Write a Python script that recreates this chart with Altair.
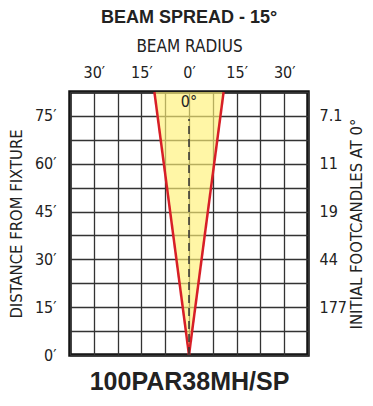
import altair as alt
import pandas as pd

# ---- data ----
cone_dist = [0, 82.5]            # distance from fixture (ft)
cone_half = [0, 10.9]            # beam radius at that distance (ft)
grid_x = [-37.5, -30, -22.5, -15, -7.5, 0, 7.5, 15, 22.5, 30, 37.5]
grid_y = [0, 7.5, 15, 22.5, 30, 37.5, 45, 52.5, 60, 67.5, 75, 82.5]
fc_dist = [15, 30, 45, 60, 75]
fc_labels = ["177", "44", "19", "11", "7.1"]
center_top = 74                  # dashed centre line stops below label
label_dist = 79.5

NARROW = "DejaVu Sans Condensed, serif"
BOLD = "Liberation Sans"

cone = pd.DataFrame({"dist": cone_dist, "left": [-h for h in cone_half], "right": cone_half})
edges = pd.DataFrame({
    "dist": cone_dist + cone_dist,
    "r": [-h for h in cone_half] + cone_half,
    "side": ["l", "l", "r", "r"],
})
center = pd.DataFrame({"x": [0], "y0": [0], "y1": [center_top]})
lab = pd.DataFrame({"x": [0], "y": [label_dist], "t": ["0°"]})

xs = alt.Scale(domain=[-37.5, 37.5], nice=False, zero=False)
ys = alt.Scale(domain=[0, 82.5], nice=False, zero=False)

fc_expr = "".join(f"datum.value == {d} ? '{l}' : " for d, l in zip(fc_dist, fc_labels)) + "''"

area = alt.Chart(cone).mark_area(orient="horizontal", color="#FFF176", opacity=0.65, clip=True).encode(
    y=alt.Y("dist:Q", scale=ys, axis=alt.Axis(
        orient="left", values=grid_y, grid=True, ticks=False, domain=False,
        labelExpr="datum.value % 15 == 0 && datum.value <= 75 ? datum.value + '′' : ''",
        labelFont=NARROW, labelFontSize=16, labelColor="#222", labelPadding=14,
        title="DISTANCE FROM FIXTURE", titleFont=NARROW, titleFontSize=16.5,
        titleFontWeight="normal", titleColor="#222", titlePadding=10, labelOverlap=False)),
    x=alt.X("left:Q", scale=xs, axis=alt.Axis(
        orient="top", values=grid_x, grid=True, ticks=False, domain=False,
        labelExpr="abs(datum.value) % 15 == 0 ? abs(datum.value) + '′' : ''",
        labelFont=NARROW, labelFontSize=16, labelColor="#222", labelPadding=12,
        labelFlush=False, labelOverlap=False,
        title="BEAM RADIUS", titleFont=NARROW, titleFontSize=17,
        titleFontWeight="normal", titleColor="#222", titlePadding=9)),
    x2="right:Q",
)

lines = alt.Chart(edges).mark_line(color="#D71F27", strokeWidth=2.5, clip=True).encode(
    x=alt.X("r:Q", scale=xs, axis=alt.Axis(
        orient="bottom", labels=False, ticks=False, domain=False, grid=False,
        title="100PAR38MH/SP", titleFont=BOLD, titleFontSize=25, titleFontWeight="bold",
        titleColor="#222", titlePadding=14)),
    y=alt.Y("dist:Q", scale=ys, axis=alt.Axis(
        orient="right", values=fc_dist, grid=False, ticks=False, domain=False,
        labelExpr=fc_expr, labelFont=NARROW, labelFontSize=16, labelColor="#222",
        labelPadding=11, labelOverlap=False,
        title="INITIAL FOOTCANDLES AT 0°", titleFont=NARROW, titleFontSize=16.5,
        titleFontWeight="normal", titleColor="#222", titleAngle=270,
        titleBaseline="top", titlePadding=2)),
    detail="side:N",
)

dash = alt.Chart(center).mark_rule(color="#333", strokeWidth=1.5, strokeDash=[8, 5]).encode(
    x=alt.X("x:Q", scale=xs, axis=None),
    y=alt.Y("y0:Q", scale=ys, axis=None),
    y2="y1:Q",
)

txt = alt.Chart(lab).mark_text(font=NARROW, fontSize=16, color="#222", baseline="middle").encode(
    x=alt.X("x:Q", scale=xs, axis=None),
    y=alt.Y("y:Q", scale=ys, axis=None),
    text="t:N",
)

chart = alt.layer(area, lines, dash, txt).resolve_axis(
    x="independent", y="independent"
).properties(
    width=238, height=263,
    autosize=alt.AutoSizeParams(type="none"),
    padding={"left": 62, "top": 84, "right": 57, "bottom": 43},
    title=alt.TitleParams("BEAM SPREAD - 15°", font=BOLD, fontSize=18, fontWeight="bold",
                          color="#222", anchor="middle", offset=10),
).configure_view(
    stroke="#111", strokeWidth=3.5
).configure_axis(
    gridColor="#333", gridWidth=1.3, gridOpacity=1
)

chart.save("out.html", embed_options={"renderer": "svg", "actions": False})
